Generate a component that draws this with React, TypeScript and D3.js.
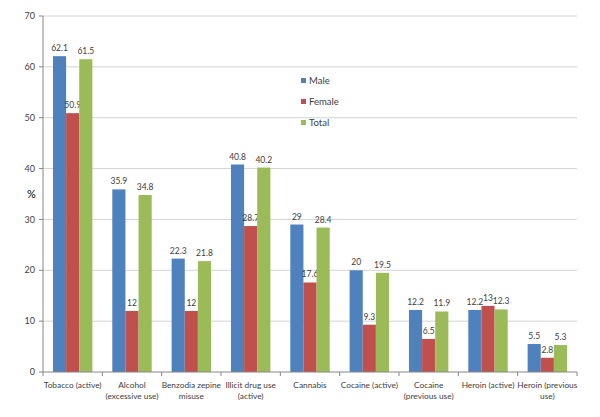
import React from "react";
import * as d3 from "d3";

const categories = [
  ["Tobacco (active)"],
  ["Alcohol", "(excessive use)"],
  ["Benzodia zepine", "misuse"],
  ["Illicit drug use", "(active)"],
  ["Cannabis"],
  ["Cocaine (active)"],
  ["Cocaine", "(previous use)"],
  ["Heroin (active)"],
  ["Heroin (previous", "use)"],
];
const male = [62.1, 35.9, 22.3, 40.8, 29, 20, 12.2, 12.2, 5.5];
const female = [50.9, 12, 12, 28.7, 17.6, 9.3, 6.5, 13, 2.8];
const total = [61.5, 34.8, 21.8, 40.2, 28.4, 19.5, 11.9, 12.3, 5.3];
const seriesNames = ["Male", "Female", "Total"];
const yTicks = [0, 10, 20, 30, 40, 50, 60, 70];

const colors = ["#4F81BD", "#C0504D", "#9BBB59"];
const font = "Lato, 'Open Sans', sans-serif";

export default function App() {
  const W = 600, H = 417;
  const left = 43, right = 577, top = 16, bottom = 372;
  const x = d3.scaleBand<number>().domain(d3.range(categories.length)).range([left, right]).paddingInner(0).paddingOuter(0);
  const y = d3.scaleLinear().domain([0, 70]).range([bottom, top]);
  const series = [male, female, total];
  const bw = x.bandwidth();
  const groupW = bw * 0.664;
  const barW = groupW / 3;
  const off = (bw - groupW) / 2;

  return (
    <svg width={W} height={H} style={{ position: "absolute", left: 0, top: 0, background: "#fff" }}>
      {yTicks.map((t) => (
        <g key={t}>
          {t > 0 && <line x1={left} x2={right} y1={y(t)} y2={y(t)} stroke="#D4D4D4" strokeWidth={1} />}
          <line x1={left - 4} x2={left} y1={y(t)} y2={y(t)} stroke="#868686" />
          <text x={left - 8} y={y(t)} dy="0.35em" textAnchor="end" fontSize={9} fill="#404040" fontFamily={font}>{t}</text>
        </g>
      ))}
      <text x={27} y={198} fontSize={11} fill="#000" fontFamily={font}>%</text>
      {series.map((vals, si) =>
        vals.map((v, i) => {
          const bx = (x(i) as number) + off + si * barW;
          return (
            <g key={`${si}-${i}`}>
              <rect x={bx} y={y(v)} width={barW} height={bottom - y(v)} fill={colors[si]} />
              <text x={bx + barW / 2} y={y(v) - 5} textAnchor="middle" fontSize={8.5} fill="#404040" fontFamily={font}>{v}</text>
            </g>
          );
        })
      )}
      <line x1={left} x2={left} y1={top} y2={bottom} stroke="#868686" />
      <line x1={left} x2={right} y1={bottom} y2={bottom} stroke="#868686" />
      {d3.range(categories.length + 1).map((i) => {
        const xx = left + i * bw;
        return <line key={i} x1={xx} x2={xx} y1={bottom} y2={bottom + 4} stroke="#868686" />;
      })}
      {categories.map((lines, i) => (
        <text key={i} textAnchor="middle" fontSize={8.3} fill="#404040" fontFamily={font}>
          {lines.map((l, j) => (
            <tspan key={j} x={(x(i) as number) + bw / 2} y={388 + j * 10.5}>{l}</tspan>
          ))}
        </text>
      ))}
      {seriesNames.map((n, i) => (
        <g key={n}>
          <rect x={301} y={78 + i * 21} width={5} height={5} fill={colors[i]} />
          <text x={309} y={81 + i * 21} dy="0.35em" fontSize={9.5} fill="#404040" fontFamily={font}>{n}</text>
        </g>
      ))}
    </svg>
  );
}
